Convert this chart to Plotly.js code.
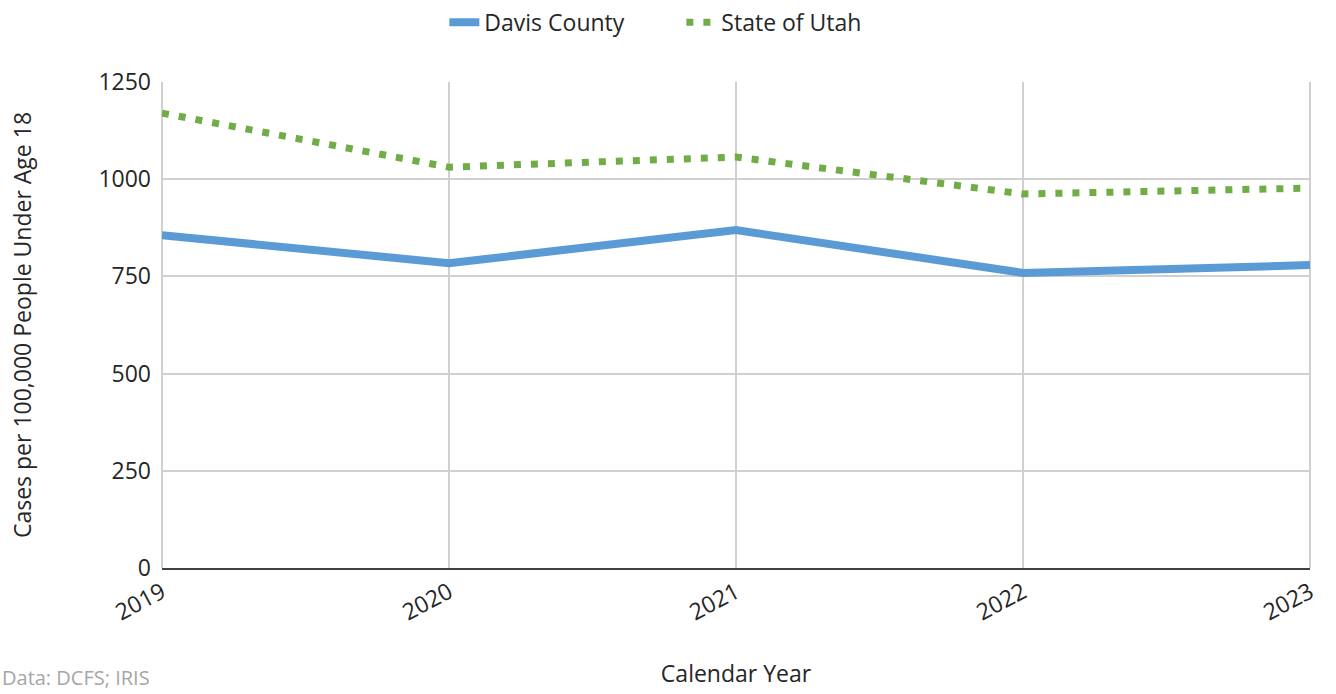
<!DOCTYPE html>
<html>
<head>
<meta charset="utf-8">
<script src="https://cdn.plot.ly/plotly-3.0.1.min.js"></script>
<style>html,body{margin:0;padding:0;background:#fff;}#chart{width:1336px;height:694px;}</style>
</head>
<body>
<div id="chart"></div>
<script>
const years = ['2019', '2020', '2021', '2022', '2023'];
const davisCounty = [856, 784, 869, 759, 779];
const stateOfUtah = [1170, 1031, 1057, 962, 977];
const yTicks = [0, 250, 500, 750, 1000, 1250];

const FS = 23;
const font = {family: 'Open Sans, sans-serif', size: FS, color: '#262626'};

const traces = [
  {x: years, y: davisCounty, name: 'Davis County', type: 'scatter', mode: 'lines',
   line: {color: '#5b9bd5', width: 8}},
  {x: years, y: stateOfUtah, name: 'State of Utah', type: 'scatter', mode: 'lines',
   line: {color: '#70ad47', width: 7, dash: '7px,10px'}}
];

const layout = {
  width: 1336, height: 694,
  margin: {l: 162, r: 26, t: 82, b: 126, autoexpand: false},
  paper_bgcolor: '#fff', plot_bgcolor: '#fff',
  font: font,
  showlegend: true,
  legend: {orientation: 'h', x: 0.51, xanchor: 'center', xref: 'container', y: 0.968, yanchor: 'middle', yref: 'container',
           font: {family: 'Open Sans, sans-serif', size: 23, color: '#262626'}, itemwidth: 30,
           entrywidth: 192, traceorder: 'normal'},
  xaxis: {
    type: 'category', range: [0, 4], tickvals: years, ticktext: years,
    showgrid: true, gridcolor: '#d0d0d0', gridwidth: 2,
    showline: true, linecolor: '#404040', linewidth: 2,
    ticks: '', tickangle: -28, tickfont: {size: FS, color: '#262626'},
    title: {text: 'Calendar Year', font: {size: FS, color: '#262626'}, standoff: 40},
    zeroline: false, automargin: false
  },
  yaxis: {
    range: [0, 1250], tickvals: yTicks, ticktext: yTicks.map(String),
    showgrid: true, gridcolor: '#d0d0d0', gridwidth: 2,
    showline: false, zeroline: false, ticks: '',
    tickfont: {size: FS, color: '#262626'}, ticklabelstandoff: 10,
    title: {text: 'Cases per 100,000 People Under Age 18', font: {size: FS, color: '#262626'}, standoff: 60},
    automargin: false
  },
  shapes: [
    {type: 'line', xref: 'paper', yref: 'paper', x0: 0, x1: 0, y0: 0, y1: 1, line: {color: '#d0d0d0', width: 2}, layer: 'below'},
    {type: 'line', xref: 'paper', yref: 'paper', x0: 1, x1: 1, y0: 0, y1: 1, line: {color: '#d0d0d0', width: 2}, layer: 'below'}
  ],
  annotations: [
    {text: 'Data: DCFS; IRIS', xref: 'paper', yref: 'paper', x: -0.141, y: -0.2572, xanchor: 'left', yanchor: 'bottom',
     showarrow: false, font: {size: 20, color: '#a6a6a6'}}
  ]
};

Plotly.newPlot('chart', traces, layout, {displayModeBar: false, staticPlot: true});
</script>
</body>
</html>
